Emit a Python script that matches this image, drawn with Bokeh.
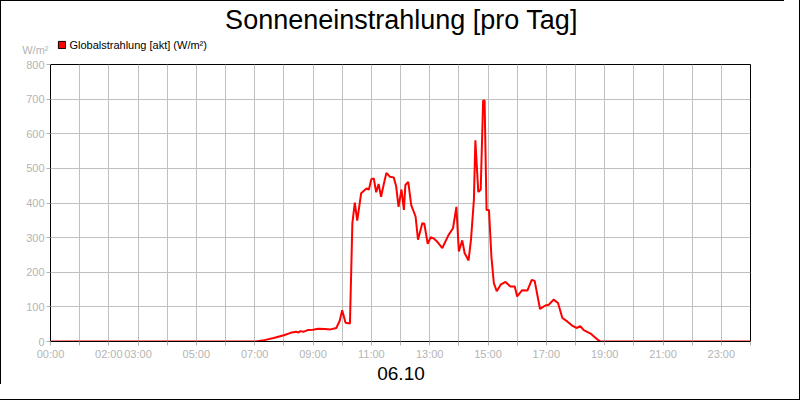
import numpy as np
from bokeh.plotting import figure
from bokeh.layouts import column
from bokeh.models import (Range1d, FixedTicker, Legend, LegendItem, Label, LinearAxis)
from bokeh.embed import file_html
from bokeh.resources import INLINE

title_text = "Sonneneinstrahlung [pro Tag]"
date_text = "06.10"
unit_text = "W/m²"
series_name = "Globalstrahlung [akt] (W/m²)"

times = ["00:00", "07:02", "07:20", "07:39", "08:00", "08:14", "08:25", "08:30",
         "08:34", "08:40", "08:49", "09:00", "09:11", "09:25", "09:36", "09:48",
         "09:55", "10:00", "10:07", "10:16", "10:21", "10:26", "10:31", "10:39",
         "10:50", "10:55", "11:00", "11:05", "11:10", "11:15", "11:20", "11:26",
         "11:31", "11:38", "11:46", "11:51", "11:56", "12:02", "12:07", "12:10",
         "12:16", "12:22", "12:31", "12:36", "12:45", "12:49", "12:56", "13:02",
         "13:08", "13:15", "13:26", "13:39", "13:48", "13:55", "14:00", "14:07",
         "14:12", "14:20", "14:25", "14:31", "14:34", "14:40", "14:45", "14:50",
         "14:53", "14:57", "15:02", "15:07", "15:12", "15:18", "15:26", "15:36",
         "15:46", "15:55", "16:00", "16:10", "16:21", "16:30", "16:36", "16:47",
         "16:58", "17:05", "17:15", "17:24", "17:33", "17:43", "17:53", "18:02",
         "18:10", "18:17", "18:31", "18:45", "18:51", "24:00"]
values = [0, 0, 4, 10, 18, 25, 28, 26,
          30, 28, 33, 34, 37, 36, 35, 39,
          60, 90, 54, 52, 342, 401, 349, 428,
          442, 439, 469, 471, 431, 455, 418, 457,
          487, 476, 474, 449, 389, 439, 380, 452,
          461, 394, 361, 294, 342, 340, 282, 301,
          298, 289, 270, 308, 327, 389, 260, 292,
          255, 234, 294, 409, 581, 432, 439, 696,
          696, 380, 380, 245, 169, 145, 164, 172,
          159, 159, 130, 148, 147, 178, 175, 94,
          104, 106, 121, 111, 68, 58, 46, 39,
          44, 33, 23, 6, 0, 0]

tick_hours = list(range(0, 25))
labeled_hours = [0, 2, 3, 5, 7, 9, 11, 13, 15, 17, 19, 21, 23]
y_ticks = list(range(0, 801, 100))

hours = [int(t[:2]) + int(t[3:]) / 60 for t in times]

GREY = "#b4b4b4"
GRID = "#c0c0c0"
FONT = "Liberation Sans"
W = 784


def blank_fig(height, yr=(0, 1)):
    f = figure(width=W, height=height, output_backend="svg", toolbar_location=None,
               x_range=Range1d(0, 1), y_range=Range1d(*yr), title=None,
               x_axis_type=None, y_axis_type=None,
               min_border_left=0, min_border_right=0, min_border_top=0,
               min_border_bottom=0, outline_line_color=None,
               background_fill_alpha=0, border_fill_alpha=0)
    f.grid.visible = False
    return f


# ---- header: title, unit, legend  (y range in half pixels of the header strip)
head = blank_fig(56, yr=(0, 112))
head.add_layout(Label(x=351, y=37, x_units="screen", y_units="screen", text=title_text,
                      text_align="center", text_baseline="alphabetic", text_font=FONT,
                      text_font_size="27px", text_color="black"))
unit_axis = LinearAxis(ticker=FixedTicker(ticks=[13]), major_label_overrides={13: unit_text},
                       axis_line_color=None, major_tick_line_color=None,
                       minor_tick_line_color=None, major_tick_out=0, major_tick_in=0,
                       major_label_standoff=2, major_label_text_color=GREY,
                       major_label_text_font=FONT, major_label_text_font_size="11px")
head.add_layout(unit_axis, "left")
swatch = head.quad(left=np.array([np.nan]), right=np.array([np.nan]),
                   top=np.array([np.nan]), bottom=np.array([np.nan]),
                   fill_color="#ff0000", line_color="black")
head.add_layout(Legend(items=[LegendItem(label=series_name, renderers=[swatch])],
                       location=(7.4, 5.2), border_line_color=None,
                       background_fill_alpha=0, padding=0, margin=0, spacing=0,
                       glyph_width=9, glyph_height=9, label_standoff=3,
                       label_height=9, label_text_font=FONT,
                       label_text_font_size="11px", label_text_color="black"))

# ---- main chart
p = figure(width=W, height=306, output_backend="svg", toolbar_location=None,
           x_range=Range1d(0, 24), y_range=Range1d(0, 800), title=None,
           min_border_left=50, min_border_right=34, min_border_top=8,
           min_border_bottom=20, background_fill_color="white",
           border_fill_alpha=0)
p.outline_line_color = "black"
p.outline_line_width = 1

xa = p.xaxis[0]
xa.ticker = FixedTicker(ticks=tick_hours)
xa.major_label_overrides = {h: (f"{h:02d}:00" if h in labeled_hours else "") for h in tick_hours}
ya = p.yaxis[0]
ya.ticker = FixedTicker(ticks=y_ticks)
for ax in (xa, ya):
    ax.axis_line_color = "black"
    ax.major_tick_line_color = GREY
    ax.major_tick_out = 4
    ax.major_tick_in = 0
    ax.minor_tick_line_color = None
    ax.major_label_text_color = GREY
    ax.major_label_text_font = FONT
    ax.major_label_text_font_size = "11px"
    ax.major_label_standoff = 2

p.xgrid.ticker = FixedTicker(ticks=tick_hours)
p.ygrid.ticker = FixedTicker(ticks=y_ticks)
for g in (p.xgrid[0], p.ygrid[0]):
    g.grid_line_color = GRID
    g.grid_line_width = 1

p.line(hours, values, line_color="#ff0000", line_width=2)

# ---- footer: date
foot = blank_fig(22)
foot.add_layout(Label(x=350.5, y=10.9, x_units="screen", y_units="screen", text=date_text,
                      text_align="center", text_baseline="alphabetic", text_font=FONT,
                      text_font_size="19px", text_color="black"))

page = column(head, p, foot, spacing=0,
              styles={"outline": "1px solid black", "outline-offset": "15px",
                      "box-shadow": "inset 1px 1px 0 0 black"})

open("out.html", "w").write(file_html(page, INLINE))
